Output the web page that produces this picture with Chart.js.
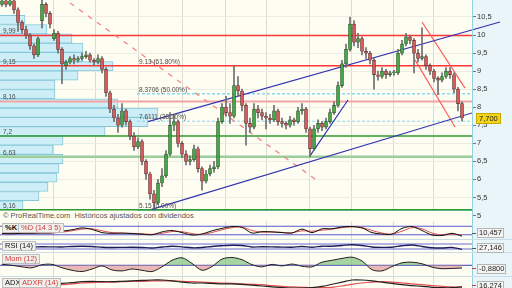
<!DOCTYPE html>
<html lang="es"><head><meta charset="utf-8">
<script src="https://cdn.jsdelivr.net/npm/chart.js@4.4.1/dist/chart.umd.min.js"></script>
<style>
html,body{margin:0;padding:0;}
body{width:512px;height:288px;overflow:hidden;position:relative;background:#c8dde5;font-family:"Liberation Sans",Arial,sans-serif;}
canvas{position:absolute;left:0;display:block;}
.strip{position:absolute;left:0;top:211px;width:472px;height:10px;background:#fdfdf2;color:#555;font-size:7.5px;line-height:10px;padding-left:3px;box-sizing:border-box;white-space:nowrap;}
.pl{position:absolute;height:8px;font-size:7.5px;line-height:8px;padding:0 2px;background:#efefeb;border:1px solid #bdbdbd;color:#111;white-space:nowrap;}
.red{color:#d23c3c;}
.vb{position:absolute;left:477px;height:8px;font-size:7.5px;line-height:8px;padding:0 1px;background:#f4f4f2;border:1px solid #b5b5b5;color:#222;white-space:nowrap;}
.tk{position:absolute;left:472px;width:4px;height:1px;background:#555;}
#tag{position:absolute;left:476px;height:9px;font-size:7.5px;line-height:9px;padding:0 2px;background:#f3d418;border:1px solid #c9a900;color:#222;}
</style></head><body>
<canvas id="main" width="512" height="222" style="top:0"></canvas>
<div class="strip">© ProRealTime.com &nbsp;Históricos ajustados con dividendos</div>
<canvas id="stoch" width="512" height="17" style="top:222px"></canvas>
<canvas id="rsi" width="512" height="12" style="top:240px"></canvas>
<canvas id="mom" width="512" height="23" style="top:253px"></canvas>
<canvas id="adx" width="512" height="12" style="top:277px"></canvas>
<div class="pl" style="left:2px;top:223px;font-weight:bold">%K</div>
<div class="pl red" style="left:18px;top:223px">%D (14 3 5)</div>
<div class="pl" style="left:2px;top:241px">RSI (14)</div>
<div class="pl red" style="left:2px;top:254px">Mom (12)</div>
<div class="pl" style="left:2px;top:278px">ADX</div>
<div class="pl red" style="left:19px;top:278px">ADXR (14)</div>
<div class="tk" style="top:233px"></div><div class="vb" id="vStoch" style="top:228px"></div>
<div class="tk" style="top:248px"></div><div class="vb" id="vRsi" style="top:243px"></div>
<div class="tk" style="top:268px;background:#d23c3c"></div><div class="vb red" id="vMom" style="top:264px"></div>
<div class="tk" style="top:285px;background:#d23c3c"></div><div class="vb red" id="vAdx" style="top:281px"></div>
<div id="tag"></div>
<script>
// ---------- price candles ----------
const opens = [10.85,10.95,10.85,10.95,10.7,10.35,10.15,10.0,9.7,9.45, 10.4,10.85,10.6,9.9,10.05,9.6,9.15,9.25,9.35,9.3, 9.35,9.4,9.45,9.3,9.25,9.35,9.05,8.4,7.95,7.7, 7.5,7.9,7.6,7.2,6.9,7.05,6.5,6.15,5.6,5.35, 5.9,6.1,6.7,7.5,7.6,7.0,6.7,6.5,6.55,6.85, 6.3,5.95,6.15,6.3,6.35,7.6,8.0,7.85,7.75,8.6, 8.45,8.05,7.55,7.45,7.95,7.85,7.75,7.7,7.65,7.9, 7.6,7.55,7.5,7.65,7.6,7.9,7.95,7.4,6.85,7.4, 7.55,7.45,7.6,7.85,8.05,8.6,9.2,9.6,10.3,9.8, 9.9,9.55,9.5,9.3,8.9,8.85,9.0,8.9,8.95,8.95, 9.5,9.75,9.95,9.85,9.5,9.35,9.4,9.15,9.0,8.8, 8.75,8.85,9.0,8.9,8.5,8.1];
const closes = [10.95,10.85,10.95,10.7,10.35,10.15,10.0,9.7,9.45,9.9, 10.85,10.6,10.3,10.05,9.6,9.2,9.25,9.35,9.3,9.35, 9.4,9.45,9.3,9.25,9.35,9.05,8.4,7.95,7.7,7.5, 7.9,7.6,7.2,6.9,7.05,6.5,6.15,5.6,5.35,5.9, 6.1,6.7,7.5,7.6,7.0,6.7,6.5,6.55,6.85,6.3, 5.95,6.15,6.3,6.35,7.6,8.0,7.85,7.75,8.6,8.45, 8.05,7.55,7.45,7.95,7.85,7.75,7.7,7.65,7.9,7.6, 7.55,7.5,7.65,7.6,7.9,7.95,7.4,6.85,7.4,7.55, 7.45,7.6,7.85,8.05,8.6,9.2,9.6,10.3,9.8,9.9, 9.55,9.5,9.3,8.9,8.85,9.0,8.9,8.95,8.98,9.5, 9.75,9.95,9.85,9.5,9.35,9.4,9.15,9.0,8.8,8.75, 8.85,9.0,8.9,8.5,8.1,7.7];
const highs = [11.0,11.0,11.0,10.98,10.75,10.4,10.25,10.05,9.75,9.95, 11.0,10.9,10.65,10.15,10.1,9.65,9.3,9.4,9.45,9.4, 9.5,9.55,9.5,9.35,9.45,9.4,9.1,8.45,8.05,7.8, 8.1,7.95,7.65,7.3,7.15,7.1,6.55,6.2,5.7,6.0, 6.3,6.8,7.85,7.8,7.65,7.05,6.8,6.65,6.95,6.9, 6.35,6.25,6.4,6.5,7.7,8.1,8.3,8.1,9.15,8.85, 8.5,8.1,7.7,8.1,8.05,7.95,7.85,7.8,8.05,7.95, 7.7,7.6,7.75,7.7,8.0,8.1,8.0,7.45,7.5,7.65, 7.6,7.7,7.95,8.15,8.7,9.3,9.75,10.5,10.4,10.05, 9.95,9.65,9.55,9.35,9.0,9.1,9.05,9.0,9.02,9.6, 9.85,10.05,10.0,9.9,9.6,10.2,9.45,9.2,9.05,8.85, 8.95,9.1,9.1,8.95,8.55,8.15];
const lows = [10.8,10.78,10.8,10.6,10.1,10.05,9.9,9.6,9.35,9.4, 10.2,10.5,10.2,9.85,9.5,8.65,9.05,9.2,9.2,9.25, 9.3,9.35,9.25,9.15,9.2,8.95,8.3,7.85,7.6,7.3, 7.45,7.5,7.1,6.8,6.85,6.4,6.0,5.45,5.15,5.3, 5.8,6.05,6.65,7.35,6.9,6.6,6.4,6.4,6.5,6.2, 5.7,5.9,6.1,6.2,6.3,7.55,7.75,7.55,7.7,8.3, 7.9,6.95,7.3,7.4,7.7,7.65,7.4,7.55,7.6,7.5, 7.45,7.4,7.45,7.5,7.55,7.8,7.3,6.63,6.8,7.3, 7.35,7.4,7.55,7.8,8.0,8.55,9.1,9.55,9.7,9.65, 9.45,9.35,9.2,8.5,8.75,8.8,8.8,8.85,8.88,8.9, 9.45,9.7,9.75,8.95,9.25,9.3,9.05,8.9,8.7,8.35, 8.7,8.8,8.8,8.4,7.9,7.62];

// ---------- volume profile (price bin centre, volume) ----------
const vpPrice = [5.279,5.536,5.793,6.050,6.307,6.564,6.821,7.078,7.335,7.592,7.849,8.106,8.363,8.620,8.877,9.134,9.391,9.648,9.905,10.162,10.419];
const vpVol   = [23,39,48,57,59,63,53,63,105,148,158,118,55,55,78,113,83,83,72,47,25];

// ---------- horizontal levels ----------
const levelVals   = [9.99, 9.15, 8.16, 7.2, 6.63, 5.16];
const fibLevels   = [9.13, 8.3706, 7.6111, 5.15];
const fibPct      = [61.8, 50, 38.2, 0];
const fibStart    = 33.75;

// ---------- trend lines [candle index, price] ----------
const upperChannel = [[36.5, 7.6], [124.5, 10.36]];
const lowerChannel = [[37.4, 5.17], [117.5, 7.84]];
const shortSupport = [[77, 6.65], [86.5, 8.2]];
const redChannelA  = [[105, 10.36], [115.75, 8.53]];
const redChannelB  = [[103.25, 9.31], [113.25, 7.45]];
const dashedTrend  = [[17, 10.89], [78.25, 6.01]];

// ---------- time grid (candle index of month starts) ----------
const gridIdx = [12.75, 23.25, 34, 45, 55.75, 66, 76.75, 87.25, 97.75, 107.75];

// ---------- indicators ----------
const indIdx = [0,2.5,5,7.5,10,12.5,15,17.5,20,22.5,25,27.5,30,32.5,35,37.5,40,42.5,45,47.5,50,52.5,55,57.5,60,62.5,65,67.5,70,72.5,75,77.5,80,82.5,85,87.5,90,92.5,95,97.5,100,102.5,105,107.5,110,112.5,115];
const stochK = [28,27,31,31,33,33,45,55,68,58,35,30,32,28,24,20,40,50,35,18,25,48,65,78,72,32,42,40,35,32,60,35,62,62,75,78,68,35,25,24,65,78,50,18,15,30,10.457];
const stochD = [28,28,29,30,32,33,38,48,60,62,48,35,31,30,27,23,30,43,42,28,22,36,55,70,75,50,38,40,37,34,48,45,52,60,70,76,72,50,32,25,45,70,62,32,18,24,17];
const rsi = [45,46,47,46,48,47,46,50,52,50,44,42,43,44,42,38,46,52,47,40,42,50,56,60,58,46,48,47,45,44,50,44,52,52,58,64,58,46,43,44,56,62,50,40,38,42,27.146];
const mom = [0.3,0.0,-0.5,-0.8,0.2,0.3,-0.8,-1.6,-2.0,-1.2,-0.2,-1.5,-1.8,-1.2,-1.6,-2.0,-0.5,1.6,2.4,0.6,-1.6,-0.4,2.0,2.5,1.8,0.2,-0.5,0.3,-0.2,0.4,-0.3,-0.5,1.0,1.6,2.2,2.6,1.4,-1.4,-1.8,-0.4,0.8,1.0,0.5,-0.6,-1.1,-1.0,-0.88];
const adx = [13,15,17,19,21,23,25,27,29,30,29,29,30,31,32,33,33,31,28,26,26,25,24,24,23,21,19,17,15,14,14,15,18,23,28,33,33,31,28,25,22,20,18,16,15,15,17];
const adxr = [14,15,16,17,18,20,22,24,26,27,28,28,29,30,30,31,31,31,30,29,28,27,26,25,24,23,22,20,18,17,16,15,15,16,19,23,26,28,29,28,26,24,22,20,18,17,16.274];
const stochLevels = [80, 20];
const rsiLevels = [70, 30];

// ---------- styling ----------
const X_MIN = -0.5, X_MAX = 117.5;
const PLOT_BG = '#fdfdf2', AXIS_BG = '#eaf5f9', EDGE = '#93d0e0';
const FONT = '"Liberation Sans", Arial, sans-serif';
const comma = v => String(v).replace('.', ',');

const bgPlugin = {
  id: 'bg',
  beforeDraw(chart) {
    const {ctx, chartArea: a, width, height} = chart;
    ctx.save();
    ctx.fillStyle = AXIS_BG; ctx.fillRect(0, 0, width, height);
    ctx.fillStyle = PLOT_BG; ctx.fillRect(a.left, a.top, a.right - a.left, a.bottom - a.top);
    ctx.restore();
  },
  afterDraw(chart) {
    const {ctx, chartArea: a, height} = chart;
    ctx.save(); ctx.strokeStyle = EDGE; ctx.lineWidth = 1;
    ctx.beginPath(); ctx.moveTo(a.right + 0.5, 0); ctx.lineTo(a.right + 0.5, height); ctx.stroke();
    ctx.restore();
  }
};

function xAxis() {
  return {
    type: 'linear', min: X_MIN, max: X_MAX, offset: false,
    afterBuildTicks: s => { s.ticks = gridIdx.map(v => ({value: v})); },
    afterFit: s => { s.height = 0; s.paddingLeft = 0; s.paddingRight = 0; },
    ticks: {display: false},
    grid: {color: '#dcdcd2', drawTicks: false, offset: false},
    border: {display: false}
  };
}
function hLine(val, color, width, dash, from) {
  return {type: 'line', data: [{x: from === undefined ? X_MIN : from, y: val}, {x: X_MAX, y: val}],
    borderColor: color, borderWidth: width, borderDash: dash || [], pointRadius: 0, fill: false, order: 4};
}
function seg(pts, color, width, dash, clip) {
  return {type: 'line', data: pts.map(p => ({x: p[0], y: p[1]})), borderColor: color, borderWidth: width,
    borderDash: dash || [], pointRadius: 0, fill: false, order: 3, clip: clip === false ? false : undefined};
}

// ---------- main chart ----------
const Y_MIN = 4.82, Y_MAX = 10.97;
const candleIdx = closes.map((c, i) => i);
const UP = '#44a844', UP_B = '#2a4f2a', DN = '#d65c5c', DN_B = '#5a2e2e';

const labelPlugin = {
  id: 'levelLabels',
  afterDatasetsDraw(chart) {
    const {ctx, chartArea: a, scales: {x, y}} = chart;
    ctx.save();
    ctx.font = '6.5px ' + FONT; ctx.fillStyle = '#4a4a4a'; ctx.textBaseline = 'alphabetic';
    levelVals.forEach(v => ctx.fillText(comma(v), a.left + 3, y.getPixelForValue(v) - 2));
    fibLevels.forEach((v, k) => ctx.fillText(v + ' (' + fibPct[k].toFixed(2) + '%)', x.getPixelForValue(fibStart) + 2, y.getPixelForValue(v) - 2));
    ctx.restore();
  }
};

const mainChart = new Chart(document.getElementById('main'), {
  type: 'bar',
  data: {datasets: [
    {type: 'bar', data: candleIdx.map(i => ({x: i, y: [opens[i], closes[i]]})), xAxisID: 'x', yAxisID: 'y',
      barThickness: 3, minBarLength: 1, grouped: false, borderSkipped: false, borderWidth: 0.7,
      backgroundColor: c => closes[c.dataIndex] >= opens[c.dataIndex] ? UP : DN,
      borderColor: c => closes[c.dataIndex] >= opens[c.dataIndex] ? UP_B : DN_B, order: 1},
    {type: 'bar', data: candleIdx.map(i => ({x: i, y: [lows[i], highs[i]]})), xAxisID: 'x', yAxisID: 'y',
      barThickness: 1, grouped: false, backgroundColor: '#6e6e6e', order: 2},
    hLine(levelVals[0], '#ff3434', 1.5),
    hLine(levelVals[1], '#ff3434', 1.5),
    hLine(levelVals[2], '#f4a4a4', 2),
    hLine(levelVals[3], '#2f9a2f', 1.5),
    hLine(levelVals[4], '#9ccd9c', 2.5),
    hLine(levelVals[5], '#2f9a2f', 1.5),
    hLine(fibLevels[1], '#8ad8f2', 1.5, [3, 2], fibStart),
    hLine(fibLevels[2], '#8ad8f2', 1.2, [3, 2], fibStart),
    hLine(fibLevels[3], '#4cc6dc', 1.5, [], fibStart),
    seg(upperChannel, '#3434b0', 1.2, [], false),
    seg(lowerChannel, '#3434b0', 1.2),
    seg(shortSupport, '#3434b0', 1.2),
    seg(redChannelA, '#ff5c5c', 1.2),
    seg(redChannelB, '#ff5c5c', 1.2),
    seg(dashedTrend, '#f27d7d', 1.2, [5, 6]),
    {type: 'bar', indexAxis: 'y', xAxisID: 'xv', yAxisID: 'yv', data: vpPrice.map((p, k) => ({x: vpVol[k], y: p})),
      barPercentage: 1, categoryPercentage: 1, grouped: false, backgroundColor: '#cdeef6', borderColor: '#86c8da',
      borderWidth: 1, order: 10}
  ]},
  options: {
    responsive: false, animation: false, events: [],
    layout: {padding: 0},
    plugins: {legend: {display: false}, tooltip: {enabled: false}},
    scales: {
      x: xAxis(),
      y: {type: 'linear', position: 'right', min: Y_MIN, max: Y_MAX,
        afterFit: s => { s.width = 40; s.paddingTop = 0; s.paddingBottom = 0; },
        ticks: {stepSize: 0.5, includeBounds: false, padding: 1, color: '#333', font: {size: 7.5, family: FONT},
          callback: v => comma(v)},
        grid: {color: '#ecece4', tickLength: 4, tickColor: '#777'},
        border: {display: true, color: EDGE}},
      xv: {type: 'linear', min: 0, max: 472, display: false, offset: false},
      yv: {type: 'linear', min: Y_MIN, max: Y_MAX, display: false, offset: false}
    }
  },
  plugins: [bgPlugin, labelPlugin]
});

// price tag
const last = closes[closes.length - 1];
const tag = document.getElementById('tag');
tag.textContent = comma(last.toFixed(3));
tag.style.top = (mainChart.scales.y.getPixelForValue(last) - 5.5) + 'px';

// ---------- indicator panels ----------
function pts(arr) { return arr.map((v, k) => ({x: indIdx[k], y: v})); }
function line(arr, color, width, extra) {
  return Object.assign({type: 'line', data: pts(arr), borderColor: color, borderWidth: width, pointRadius: 0, fill: false, tension: 0.3}, extra || {});
}
function panel(id, datasets, yMin, yMax) {
  return new Chart(document.getElementById(id), {
    type: 'line',
    data: {datasets},
    options: {
      responsive: false, animation: false, events: [],
      layout: {padding: {right: 40}},
      plugins: {legend: {display: false}, tooltip: {enabled: false}},
      scales: {x: xAxis(), y: {type: 'linear', min: yMin, max: yMax, display: false}}
    },
    plugins: [bgPlugin]
  });
}
const lvl = (v, c) => ({type: 'line', data: [{x: X_MIN, y: v}, {x: X_MAX, y: v}], borderColor: c, borderWidth: 1, pointRadius: 0, fill: false});

panel('stoch', [
  line(stochK, '#111', 1), line(stochD, '#e05050', 1),
  lvl(stochLevels[0], '#5a5ad0'), lvl(stochLevels[1], '#5a5ad0')
], -10, 110);
panel('rsi', [
  line(rsi, '#1c1c5c', 1.3),
  lvl(rsiLevels[0], '#6a6ad8'), lvl(rsiLevels[1], '#6a6ad8')
], 6, 102);
panel('mom', [
  line(mom, '#222', 1, {fill: {target: {value: 0}, above: 'rgba(120,190,120,0.65)', below: 'rgba(222,140,140,0.6)'}}),
  lvl(0, '#3c3cc0')
], -3.43, 3.94);
panel('adx', [
  line(adx, '#222', 1.2), line(adxr, '#e05050', 1.2)
], 12, 40);

const fmt = (v, d) => v.toFixed(d).replace('.', ',');
document.getElementById('vStoch').textContent = fmt(stochK[stochK.length - 1], 3);
document.getElementById('vRsi').textContent = fmt(rsi[rsi.length - 1], 3);
document.getElementById('vMom').textContent = fmt(mom[mom.length - 1], 4);
document.getElementById('vAdx').textContent = fmt(adxr[adxr.length - 1], 3);
</script>
</body></html>
